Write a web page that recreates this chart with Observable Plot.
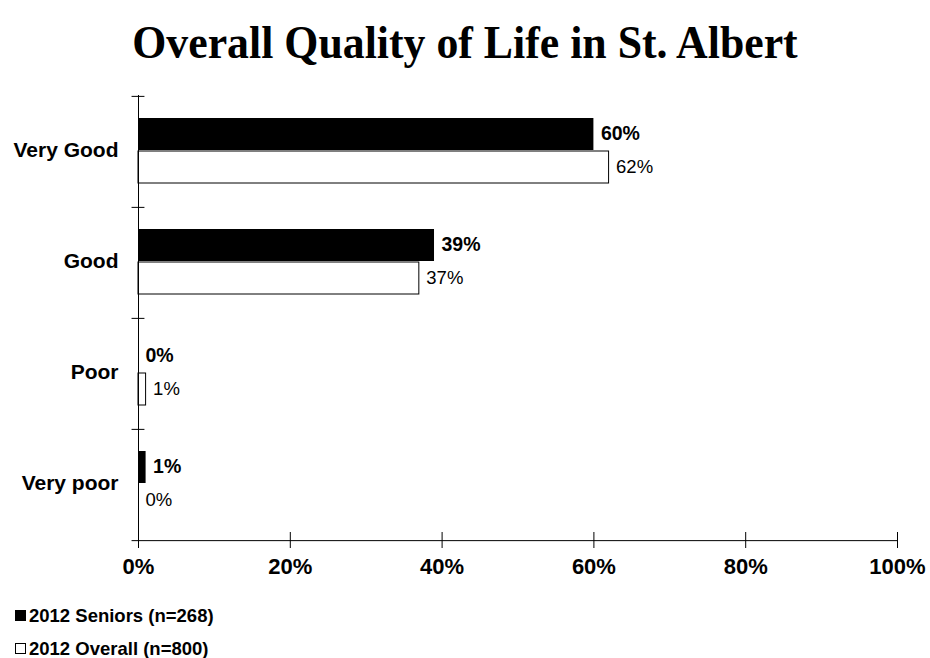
<!DOCTYPE html>
<html>
<head>
<meta charset="utf-8">
<script src="https://cdn.jsdelivr.net/npm/d3@7"></script>
<script src="https://cdn.jsdelivr.net/npm/@observablehq/plot@0.6"></script>
<style>
  body { margin: 0; background: #fff; width: 930px; height: 658px; overflow: hidden; }
  #title { height: 85px; text-align: center; font-family: "Liberation Serif", "Times New Roman", serif; font-weight: bold; font-size: 43.8px; line-height: 85px; color: #000; white-space: nowrap; }
  #title span { display: inline-block; transform: scaleY(1.04); transform-origin: center 48%; }
  #legend { font-family: "Liberation Sans", Arial, sans-serif; font-weight: bold; font-size: 18.5px; color: #000; padding-left: 15px; padding-top: 9px; }
  .row { height: 33px; line-height: 33px; display: flex; align-items: center; }
  .sw { width: 11px; height: 11px; box-sizing: border-box; border: 1px solid #000; margin-right: 3px; }
</style>
</head>
<body>
<div id="title"><span>Overall Quality of Life in St. Albert</span></div>
<div id="chart"></div>
<div id="legend"></div>
<script>
const categories = ["Very Good", "Good", "Poor", "Very poor"];
const seriesNames = ["2012 Seniors (n=268)", "2012 Overall (n=800)"];
const seniors = [60, 39, 0, 1];
const overall = [62, 37, 1, 0];
const xTicks = [0, 20, 40, 60, 80, 100];

const data = [];
categories.forEach((c, i) => {
  data.push({category: c, series: seriesNames[0], value: seniors[i]});
  data.push({category: c, series: seriesNames[1], value: overall[i]});
});
const sen = data.filter(d => d.series === seriesNames[0]);
const ovr = data.filter(d => d.series === seriesNames[1]);

const marginTop = 10, marginBottom = 50, height = 505;
const bw = (height - marginTop - marginBottom) / categories.length;
const font = '"Liberation Sans", Arial, sans-serif';

const chart = Plot.plot({
  width: 930,
  height,
  marginLeft: 138,
  marginRight: 33,
  marginTop,
  marginBottom,
  style: {fontFamily: font, color: "#000", background: "#fff", overflow: "visible"},
  x: {domain: [0, 100]},
  y: {domain: categories, padding: 0},
  marks: [
    Plot.barX(sen, {x: "value", y: "category", fill: "#000", insetTop: 22, insetBottom: 57}),
    Plot.barX(ovr, {x: "value", y: "category", fill: "#fff", stroke: "#000", strokeWidth: 1, insetTop: 55, insetBottom: 24}),
    Plot.text(sen, {x: "value", y: "category", text: d => d.value + "%", dx: 7, dy: -18, textAnchor: "start", fontWeight: "bold", fontSize: 19.5, fill: "#000"}),
    Plot.text(ovr, {x: "value", y: "category", text: d => d.value + "%", dx: 7, dy: 15, textAnchor: "start", fontSize: 18.5, fill: "#000"}),
    Plot.ruleX([0], {stroke: "#000", strokeWidth: 1}),
    Plot.ruleY(categories, {y: d => d, dy: -bw / 2, x1: -0.85, x2: 0.85, stroke: "#000"}),
    Plot.ruleY([categories[categories.length - 1]], {y: d => d, dy: bw / 2, x1: -0.85, x2: 100, stroke: "#000"}),
    Plot.axisX({ticks: xTicks, tickFormat: d => d + "%", tickSize: 16, dy: -8, tickPadding: 10, fontSize: 22, fontWeight: "bold", label: null}),
    Plot.axisY({tickSize: 0, tickPadding: 20, dy: -1.5, fontSize: 21, fontWeight: "bold", label: null})
  ]
});
document.getElementById("chart").appendChild(chart);

const legend = document.getElementById("legend");
const fills = ["#000", "#fff"];
seriesNames.forEach((s, i) => {
  const row = document.createElement("div");
  row.className = "row";
  const sw = document.createElement("span");
  sw.className = "sw";
  sw.style.background = fills[i];
  row.appendChild(sw);
  const t = document.createElement("span");
  t.textContent = s;
  row.appendChild(t);
  legend.appendChild(row);
});
</script>
</body>
</html>
